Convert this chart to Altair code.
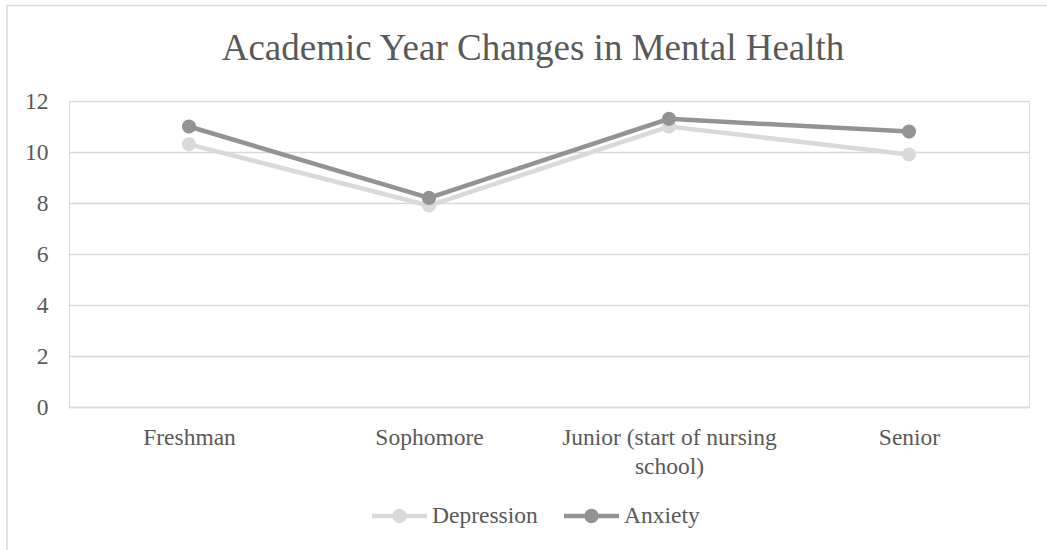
import altair as alt
import pandas as pd

# Survey means by academic year
categories = ["Freshman", "Sophomore", "Junior (start of nursing school)", "Senior"]
depression = [10.3, 7.9, 11.0, 9.9]
anxiety = [11.0, 8.2, 11.3, 10.8]
series_names = ["Depression", "Anxiety"]
series_colors = ["#D9D9D9", "#939393"]
y_ticks = [0, 2, 4, 6, 8, 10, 12]

rows = []
for name, values in zip(series_names, [depression, anxiety]):
    for cat, v in zip(categories, values):
        rows.append({"year": cat, "series": name, "score": v})
df = pd.DataFrame(rows)

FONT = "Times New Roman"
TEXT = "#595959"
GRID = "#D9D9D9"

x_enc = alt.X(
    "year:N",
    sort=categories,
    scale=alt.Scale(paddingInner=0, paddingOuter=0),
    axis=alt.Axis(
        title=None,
        labelAngle=0,
        labelFont=FONT,
        labelFontSize=23.5,
        labelColor=TEXT,
        labelPadding=18,
        labelLineHeight=29,
        labelLimit=500,
        ticks=False,
        domainColor=GRID,
        domainWidth=1.5,
        labelExpr="datum.label == 'Junior (start of nursing school)' ? "
                  "['Junior (start of nursing', 'school)'] : datum.label",
    ),
)
y_enc = alt.Y(
    "score:Q",
    scale=alt.Scale(domain=[0, 12], nice=False),
    axis=alt.Axis(
        title=None,
        values=y_ticks,
        labelFont=FONT,
        labelFontSize=23.5,
        labelColor=TEXT,
        labelPadding=21,
        ticks=False,
        domain=False,
        gridColor=GRID,
        gridWidth=1.5,
    ),
)
color_scale = alt.Scale(domain=series_names, range=series_colors)

# legend glyph: a short thick line with a dot in the middle (same winding for both parts)
legend_symbol = (
    "M-1,-0.085H1V0.085H-1Z "
    "M-0.26,0A0.26,0.26 0 1,1 0.26,0A0.26,0.26 0 1,1 -0.26,0Z"
)
legend = alt.Legend(
    title=None,
    orient="none",
    direction="horizontal",
    legendX=303,
    legendY=387.5,
    padding=0,
    symbolType=legend_symbol,
    symbolSize=3025,
    symbolStrokeWidth=0,
    symbolOpacity=1,
    labelFont=FONT,
    labelFontSize=23.5,
    labelColor=TEXT,
    labelOffset=5,
    columnPadding=26,
)
color_enc = alt.Color("series:N", scale=color_scale, sort=series_names, legend=legend)

layers = []
for name in series_names:
    base = alt.Chart(df).transform_filter(alt.datum.series == name)
    line = base.mark_line(strokeWidth=4.5).encode(x=x_enc, y=y_enc, color=color_enc)
    pts = base.mark_point(filled=True, size=200, opacity=1).encode(
        x=x_enc, y=y_enc, color=color_enc
    )
    layers += [line, pts]

border = alt.Chart(pd.DataFrame({"k": [0]})).mark_rect(
    filled=False, stroke=GRID, strokeWidth=1.5
).encode(
    x=alt.value(-62), y=alt.value(-95.5),
    x2=alt.value(1100), y2=alt.value(600),
)

chart = alt.layer(border, *layers).properties(
    width=960,
    height=306,
    autosize=alt.AutoSizeParams(type="none"),
    padding={"left": 69, "top": 101, "right": 18, "bottom": 143},
    title=alt.TitleParams(
        "Academic Year Changes in Mental Health",
        font=FONT,
        fontSize=37,
        fontWeight="normal",
        color=TEXT,
        anchor="middle",
        frame="group",
        baseline="alphabetic",
        offset=-92.5,
        dx=-16,
    ),
).configure_view(stroke=None).configure(background="white")

chart.save("out.html", embed_options={"renderer": "svg", "actions": False})
